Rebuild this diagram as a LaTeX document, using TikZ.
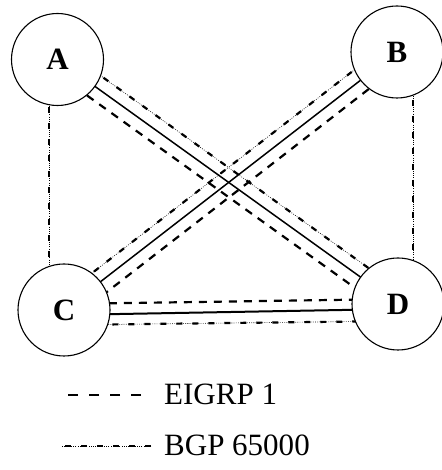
\documentclass[tikz,border=0pt]{standalone}
\usepackage{fontspec}
\setmainfont{Liberation Serif}
\usetikzlibrary{calc,backgrounds}
\begin{document}
\begin{tikzpicture}[x=1pt,y=1pt,
  router/.style={circle,draw,line width=1.1pt,fill=white,minimum size=92pt,inner sep=0pt,
                 font=\fontsize{31}{31}\selectfont\bfseries},
  physical/.style={line width=1.5pt},
  eigrp/.style={line width=2.2pt,dash pattern=on 8pt off 7pt},
  bgp/.style={line width=0.6pt,dash pattern=on 0.8pt off 1.4pt,
              postaction={draw,line width=2.2pt,dash pattern=on 6pt off 10pt}},
  keytext/.style={anchor=base west,inner sep=0pt,font=\fontsize{31}{31}\selectfont}]
\useasboundingbox (0,0) rectangle (441,470);

% routers
\node[router] (A) at (57.5,410.5) {A};
\node[router] (B) at (397,418) {B};
\node[router] (C) at (64,160) {C};
\node[router] (D) at (398,166) {D};

\begin{scope}[on background layer]
  % A -- D
  \draw[physical] (A.center) -- (D.center);
  \draw[bgp]   ($(A)!12pt!90:(D)$)  -- ($(D)!12pt!-90:(A)$);
  \draw[eigrp] ($(A)!12pt!-90:(D)$) -- ($(D)!12pt!90:(A)$);
  % B -- C
  \draw[physical] (B.center) -- (C.center);
  \draw[bgp]   ($(B)!12pt!-90:(C)$) -- ($(C)!12pt!90:(B)$);
  \draw[eigrp] ($(B)!12pt!90:(C)$)  -- ($(C)!12pt!-90:(B)$);
  % C -- D
  \draw[physical,line width=2pt] ($(C)!5pt!-90:(D)$) -- ($(D)!5pt!90:(C)$);
  \draw[eigrp] ($(C)!6pt!90:(D)$)  -- ($(D)!5pt!-90:(C)$);
  \draw[bgp]   ($(C)!15pt!-90:(D)$) -- ($(D)!17pt!90:(C)$);
  % A -- C and B -- D
  \draw[bgp] ([xshift=-8.5pt]A.center) -- ([xshift=-8.5pt]A.center |- C.center);
  \draw[bgp] ([xshift=16pt]B.center) -- ([xshift=16pt]B.center |- D.center);
\end{scope}

% key
\coordinate (eigrpL) at (60,75);
\coordinate (eigrpR) at (141,75);
\coordinate (bgpL) at (61,24);
\coordinate (bgpR) at (151,24);
\draw[eigrp,dash pattern=on 10pt off 11pt] (eigrpR) -- (eigrpL);
\draw[bgp] (bgpR) -- (bgpL);
\node[keytext] (eigrpkey) at (164,65) {EIGRP 1};
\node[keytext] (bgpkey) at (164,14) {BGP 65000};
\end{tikzpicture}
\end{document}
